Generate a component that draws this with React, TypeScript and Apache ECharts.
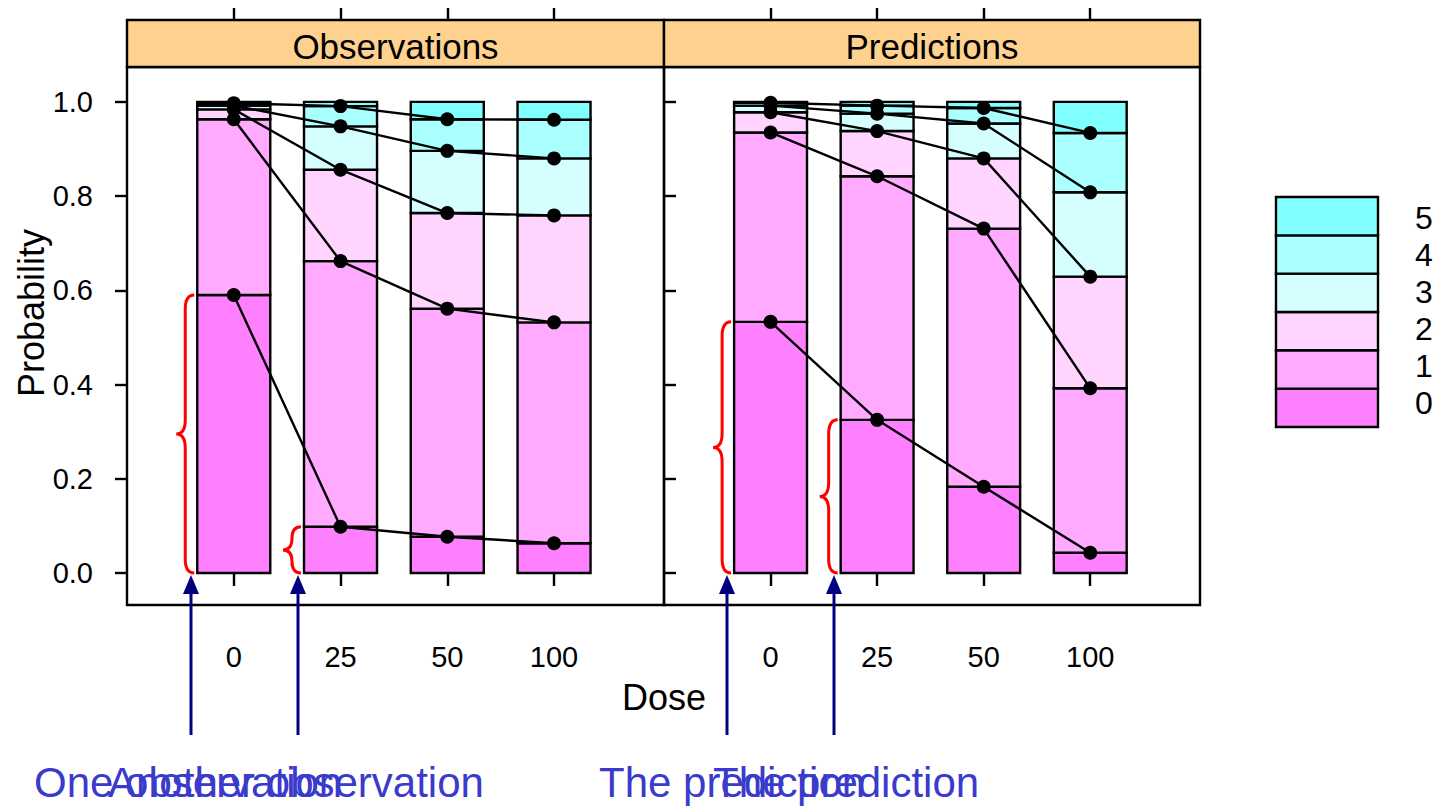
import React, { useEffect, useRef } from "react";
import * as echarts from "echarts";

// Dose groups along the x axis
const doses = ["0", "25", "50", "100"];
// Outcome score categories, lowest first
const categories = ["0", "1", "2", "3", "4", "5"];
const categoryColors = ["#FF80FF", "#FFAAFF", "#FFD5FF", "#D5FFFF", "#AAFFFF", "#80FFFF"];
const panelTitles = ["Observations", "Predictions"];
const yTicks = [0, 0.2, 0.4, 0.6, 0.8, 1.0];

// Cumulative probability P(score <= k), k = 0..4, one row per dose
const observedCum = [
  [0.59, 0.963, 0.984, 0.992, 0.997],
  [0.098, 0.662, 0.856, 0.948, 0.991],
  [0.077, 0.561, 0.764, 0.896, 0.963],
  [0.063, 0.532, 0.759, 0.88, 0.962],
];
const predictedCum = [
  [0.533, 0.935, 0.978, 0.992, 0.998],
  [0.325, 0.842, 0.938, 0.975, 0.992],
  [0.183, 0.731, 0.88, 0.954, 0.987],
  [0.043, 0.392, 0.629, 0.808, 0.934],
];

// Annotation labels under each panel
const observationNotes = ["One observation", "Another observation"];
const predictionNotes = ["The prediction", "The prediction"];

const FONT = '"Liberation Sans", Arial, Helvetica, sans-serif';
const HALF_BAR = 0.342;

function buildPanelSeries(cum: number[][], panel: number) {
  const barData: number[][] = [];
  cum.forEach((row, d) => {
    categories.forEach((_, k) => {
      const lo = k === 0 ? 0 : row[k - 1];
      const hi = k === categories.length - 1 ? 1 : row[k];
      barData.push([d + 1, lo, hi, k]);
    });
  });

  const bars = {
    type: "custom",
    xAxisIndex: panel * 2,
    yAxisIndex: panel,
    silent: true,
    z: 2,
    encode: { x: 0, y: [1, 2] },
    data: barData,
    renderItem: (_params: any, api: any) => {
      const x = api.value(0);
      const lo = api.value(1);
      const hi = api.value(2);
      const k = api.value(3);
      const p1 = api.coord([x - HALF_BAR, hi]);
      const p2 = api.coord([x + HALF_BAR, lo]);
      return {
        type: "rect",
        shape: { x: p1[0], y: p1[1], width: p2[0] - p1[0], height: p2[1] - p1[1] },
        style: { fill: categoryColors[k], stroke: "#000", lineWidth: 2.4 },
      };
    },
  };

  const lines = categories.slice(0, categories.length - 1).map((_, k) => ({
    type: "line",
    xAxisIndex: panel * 2,
    yAxisIndex: panel,
    silent: true,
    z: 3,
    symbol: "circle",
    symbolSize: 14,
    itemStyle: { color: "#000" },
    lineStyle: { color: "#000", width: 2.4 },
    data: cum.map((row, d) => [d + 1, row[k]]),
  }));

  // Curly braces marking the score-0 share of the first two doses
  const braces = {
    type: "custom",
    xAxisIndex: panel * 2,
    yAxisIndex: panel,
    silent: true,
    z: 4,
    encode: { x: 0, y: 1 },
    data: cum.slice(0, 2).map((row, d) => [d + 1, row[0]]),
    renderItem: (_params: any, api: any) => {
      const x = api.value(0);
      const top = api.value(1);
      const xe = api.coord([x - HALF_BAR, 0])[0] - 3;
      const yTop = api.coord([x, top])[1];
      const yBot = api.coord([x, 0])[1];
      const xb = xe - 9;
      const xc = xe - 18;
      const ym = (yTop + yBot) / 2;
      const r = Math.min(14, (yBot - yTop) / 4);
      const d =
        `M${xe},${yTop} Q${xb},${yTop} ${xb},${yTop + r} ` +
        `L${xb},${ym - r} Q${xb},${ym} ${xc},${ym} ` +
        `Q${xb},${ym} ${xb},${ym + r} L${xb},${yBot - r} ` +
        `Q${xb},${yBot} ${xe},${yBot}`;
      return {
        type: "path",
        shape: { pathData: d },
        style: { fill: "none", stroke: "#FF0000", lineWidth: 3 },
      };
    },
  };

  return [bars, ...lines, braces];
}

function arrow(x: number) {
  return [
    {
      type: "line",
      shape: { x1: x, y1: 735, x2: x, y2: 590 },
      style: { stroke: "#000080", lineWidth: 3 },
    },
    {
      type: "polygon",
      shape: { points: [[x, 575], [x - 8, 594], [x + 8, 594]] },
      style: { fill: "#000080" },
    },
  ];
}

export default function App() {
  const ref = useRef<HTMLDivElement>(null);

  useEffect(() => {
    if (!ref.current) return;
    const chart = echarts.init(ref.current, null, { renderer: "svg" });

    const grids = [
      { left: 127, top: 67, width: 537, height: 538 },
      { left: 664, top: 67, width: 536, height: 538 },
    ].map((g) => ({ ...g, show: true, borderColor: "#000", borderWidth: 2.4, backgroundColor: "transparent" }));

    const xAxes: any[] = [];
    const yAxes: any[] = [];
    [0, 1].forEach((p) => {
      const base = {
        type: "value",
        gridIndex: p,
        min: 0,
        max: 5.03,
        axisLine: { show: false },
        splitLine: { show: false },
      };
      xAxes.push({
        ...base,
        position: "bottom",
        axisTick: { customValues: [1, 2, 3, 4], length: 13, lineStyle: { color: "#000", width: 2.4 } },
        axisLabel: {
          customValues: [1, 2, 3, 4],
          formatter: (v: number) => doses[Math.round(v) - 1] ?? "",
          fontSize: 29,
          fontFamily: FONT,
          color: "#000",
          margin: 37,
        },
      });
      xAxes.push({
        ...base,
        position: "top",
        offset: 47,
        axisTick: { customValues: [1, 2, 3, 4], length: 12, lineStyle: { color: "#000", width: 2.4 } },
        axisLabel: { show: false },
      });
      yAxes.push({
        type: "value",
        gridIndex: p,
        min: -0.068,
        max: 1.074,
        position: p === 0 ? "left" : "right",
        axisLine: { show: false },
        splitLine: { show: false },
        axisTick: { customValues: yTicks, length: 12, lineStyle: { color: "#000", width: 2.4 } },
        axisLabel: {
          show: p === 0,
          customValues: yTicks,
          formatter: (v: number) => v.toFixed(1),
          fontSize: 29,
          fontFamily: FONT,
          color: "#000",
          margin: 34,
        },
      });
    });

    const graphics: any[] = [];
    // Panel strips
    grids.forEach((g, i) => {
      graphics.push({
        type: "rect",
        shape: { x: g.left, y: 20, width: g.width, height: 47 },
        style: { fill: "#FFD18F", stroke: "#000", lineWidth: 2.4 },
        z: 10,
      });
      graphics.push({
        type: "text",
        x: g.left + g.width / 2,
        y: 46,
        style: {
          text: panelTitles[i],
          font: `35px ${FONT}`,
          fill: "#000",
          textAlign: "center",
          textVerticalAlign: "middle",
        },
        z: 11,
      });
    });
    // Axis titles
    graphics.push({
      type: "text",
      x: 31,
      y: 313,
      rotation: Math.PI / 2,
      style: { text: "Probability", font: `36px ${FONT}`, fill: "#000", textAlign: "center", textVerticalAlign: "middle" },
    });
    graphics.push({
      type: "text",
      x: 664,
      y: 697,
      style: { text: "Dose", font: `36px ${FONT}`, fill: "#000", textAlign: "center", textVerticalAlign: "middle" },
    });
    // Colour key
    const keyTop = 197;
    const keyH = 38.33;
    categories.forEach((c, k) => {
      const row = categories.length - 1 - k;
      graphics.push({
        type: "rect",
        shape: { x: 1276, y: keyTop + row * keyH, width: 102, height: keyH },
        style: { fill: categoryColors[k], stroke: "#000", lineWidth: 2.4 },
      });
      graphics.push({
        type: "text",
        x: 1415,
        y: 218 + row * 37,
        style: { text: c, font: `32px ${FONT}`, fill: "#000", textAlign: "left", textVerticalAlign: "middle" },
      });
    });
    // Arrows and notes
    [191, 298, 727, 834].forEach((x) => graphics.push(...arrow(x)));
    const notes: [string, number][] = [
      [observationNotes[0], 34],
      [observationNotes[1], 108],
      [predictionNotes[0], 599],
      [predictionNotes[1], 713],
    ];
    notes.forEach(([t, x]) =>
      graphics.push({
        type: "text",
        x,
        y: 782,
        style: { text: t, font: `42px ${FONT}`, fill: "#3A3ACC", textAlign: "left", textVerticalAlign: "middle" },
      })
    );

    chart.setOption({
      animation: false,
      backgroundColor: "#fff",
      textStyle: { fontFamily: FONT },
      grid: grids,
      xAxis: xAxes,
      yAxis: yAxes,
      series: [...buildPanelSeries(observedCum, 0), ...buildPanelSeries(predictedCum, 1)],
      graphic: graphics,
    });

    return () => chart.dispose();
  }, []);

  return <div ref={ref} style={{ position: "fixed", left: 0, top: 0, width: 1449, height: 809 }} />;
}
